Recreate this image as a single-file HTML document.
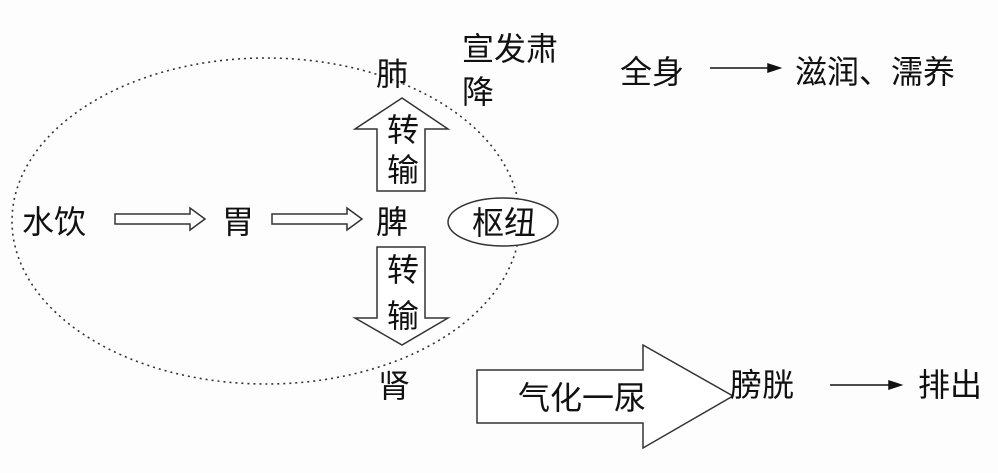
<!DOCTYPE html>
<html><head><meta charset="utf-8"><style>
html,body{margin:0;padding:0;background:#fdfdfd;}
svg text{font-family:"Liberation Sans","Noto Sans CJK SC",sans-serif;fill:#111;font-size:32px;}
</style></head><body>
<svg width="998" height="468" viewBox="0 0 998 468" xmlns="http://www.w3.org/2000/svg">
<ellipse cx="266" cy="221" rx="254" ry="163" fill="none" stroke="#333" stroke-width="1.6" stroke-dasharray="2,4"/>
<g fill="#fff" stroke="#333" stroke-width="1.5">
<polygon points="402,98 448,129 425,129 425,191 377,191 377,129 355,129"/>
<polygon points="377,247 425,247 425,318 448,318 402,345 355,318 377,318"/>
<ellipse cx="503" cy="222" rx="55" ry="24"/>
<polygon points="477,370 643,370 643,345 733,396 643,448 643,423 477,423"/>
<polygon points="115,214 190,214 190,208 205,219 190,230 190,224 115,224"/>
<polygon points="272,214 347,214 347,208 362,219 347,230 347,224 272,224"/>
</g>
<g stroke="#111" stroke-width="1.5" fill="#111">
<line x1="710" y1="68" x2="772" y2="68"/><polygon points="780,68 768,64 768,72"/>
<line x1="830" y1="385" x2="893" y2="385"/><polygon points="901,385 889,381 889,389"/>
</g>
<text x="22" y="233">水饮</text>
<text x="222" y="233">胃</text>
<text x="376" y="233">脾</text>
<text x="472" y="234">枢纽</text>
<text x="376" y="85">肺</text>
<text x="462" y="60">宣发肃</text>
<text x="462" y="103">降</text>
<text x="620" y="83">全身</text>
<text x="795" y="83">滋润、濡养</text>
<text x="387" y="141">转</text>
<text x="387" y="181">输</text>
<text x="387" y="281">转</text>
<text x="387" y="327">输</text>
<text x="378" y="397">肾</text>
<text x="518" y="409">气化一尿</text>
<text x="730" y="396">膀胱</text>
<text x="918" y="396">排出</text>
</svg>
</body></html>
